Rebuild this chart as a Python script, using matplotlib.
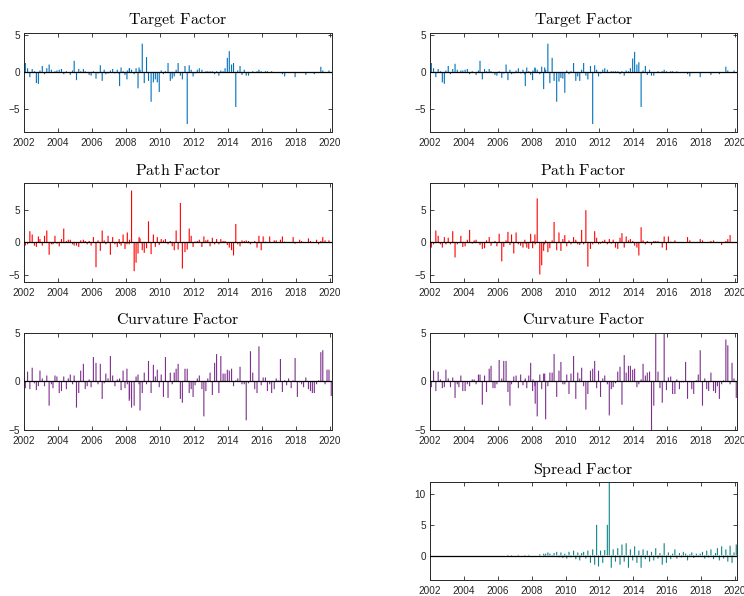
import matplotlib
matplotlib.use('Agg')
import matplotlib.pyplot as plt
import matplotlib.dates as mdates
import pandas as pd

plt.rcParams['mathtext.fontset'] = 'cm'
plt.rcParams['font.family'] = ['Liberation Sans', 'DejaVu Sans']

# --- event dates (FOMC announcements) ---
dates = [
    '2002-01-30', '2002-03-19', '2002-05-07', '2002-06-26', '2002-08-13', '2002-09-24', '2002-11-06', '2002-12-10',
    '2003-01-29', '2003-03-18', '2003-05-06', '2003-06-25', '2003-08-12', '2003-09-16', '2003-10-28', '2003-12-09',
    '2004-01-28', '2004-03-16', '2004-05-04', '2004-06-30', '2004-08-10', '2004-09-21', '2004-11-10', '2004-12-14',
    '2005-02-02', '2005-03-22', '2005-05-03', '2005-06-30', '2005-08-09', '2005-09-20', '2005-11-01', '2005-12-13',
    '2006-01-31', '2006-03-28', '2006-05-10', '2006-06-29', '2006-08-08', '2006-09-20', '2006-10-25', '2006-12-12',
    '2007-01-31', '2007-03-21', '2007-05-09', '2007-06-28', '2007-08-07', '2007-08-17', '2007-09-18', '2007-10-31',
    '2007-12-11',
    '2008-01-22', '2008-01-30', '2008-03-11', '2008-03-18', '2008-04-30', '2008-06-25', '2008-08-05', '2008-09-16',
    '2008-10-08', '2008-10-29', '2008-12-16',
    '2009-01-28', '2009-03-18', '2009-04-29', '2009-06-24', '2009-08-12', '2009-09-23', '2009-11-04', '2009-12-16',
    '2010-01-27', '2010-03-16', '2010-04-28', '2010-06-23', '2010-08-10', '2010-09-21', '2010-11-03', '2010-12-14',
    '2011-01-26', '2011-03-15', '2011-04-27', '2011-06-22', '2011-08-09', '2011-09-21', '2011-11-02', '2011-12-13',
    '2012-01-25', '2012-03-13', '2012-04-25', '2012-06-20', '2012-08-01', '2012-09-13', '2012-10-24', '2012-12-12',
    '2013-01-30', '2013-03-20', '2013-05-01', '2013-06-19', '2013-07-31', '2013-09-18', '2013-10-30', '2013-12-18',
    '2014-01-29', '2014-03-19', '2014-04-30', '2014-06-18', '2014-07-30', '2014-09-17', '2014-10-29', '2014-12-17',
    '2015-01-28', '2015-03-18', '2015-04-29', '2015-06-17', '2015-07-29', '2015-09-17', '2015-10-28', '2015-12-16',
    '2016-01-27', '2016-03-16', '2016-04-27', '2016-06-15', '2016-07-27', '2016-09-21', '2016-11-02', '2016-12-14',
    '2017-02-01', '2017-03-15', '2017-05-03', '2017-06-14', '2017-07-26', '2017-09-20', '2017-11-01', '2017-12-13',
    '2018-01-31', '2018-03-21', '2018-05-02', '2018-06-13', '2018-08-01', '2018-09-26', '2018-11-08', '2018-12-19',
    '2019-01-30', '2019-03-20', '2019-05-01', '2019-06-19', '2019-07-31', '2019-09-18', '2019-10-30', '2019-12-11',
    '2020-01-29',
]

# --- factor series, left column ---
target_left = [
    1.2, 0.5, -0.7, 0.4, 0.1, -1.5, -1.6, 0.2,
    0.8, -0.3, 0.5, 1.0, 0.3, -0.1, 0.1, 0.2,
    0.3, 0.4, -0.3, 0.1, 0.0, -0.4, 0.2, 1.5,
    -1.1, 0.4, 0.1, 0.4, 0.1, 0.0, -0.4, -0.5,
    0.1, -0.9, -0.2, 0.9, -1.2, 0.3, -0.3, -0.2,
    0.2, 0.4, -0.2, 0.3, -0.3, -1.9, 0.6, 0.1, -0.4,
    -1.0, 0.2, 0.5, 0.5, 0.3, -0.3, 0.5, -2.2, 0.6, 0.3, 3.8,
    -1.5, 2.0, -1.2, -4.0, -1.4, -1.0, -1.4, -2.7,
    0.2, -0.3, 0.1, 1.2, -1.2, -0.9, -0.6, 0.3,
    1.2, -0.5, -1.0, 0.8, -7.0, 0.9, 0.3, -0.6,
    -0.2, 0.3, 0.5, 0.3, -0.1, 0.1, 0.1, 0.1,
    0.1, -0.3, 0.1, -0.5, 0.2, 0.1, 0.5, 1.9,
    2.8, 1.0, 1.2, -4.7, 0.2, 0.8, -0.4, 0.3,
    -0.5, -0.5, 0.0, 0.1, 0.0, 0.1, 0.3, 0.1,
    0.0, 0.1, 0.1, 0.0, 0.1, 0.0, 0.0, 0.0,
    0.0, -0.3, -0.6, 0.0, 0.0, 0.0, 0.0, -0.7,
    0.0, 0.0, 0.0, 0.0, -0.4, 0.0, 0.0, 0.0,
    -0.3, 0.0, 0.0, 0.7, 0.2, 0.0, 0.0, 0.2,
    0.0,
]
path_left = [
    -0.5, -0.3, 1.7, 1.2, -0.5, -0.7, 0.9, 0.5,
    -0.5, 1.0, 1.8, -1.9, -0.3, -0.3, 1.0, -0.2,
    -0.6, 0.5, 2.1, 0.2, 0.4, 0.4, -0.3, -0.5,
    -0.5, -0.7, 0.3, 0.4, 0.2, -0.3, 0.2, -0.5,
    0.8, -3.8, 0.3, -1.3, 1.8, 0.3, -0.3, 1.0,
    -1.9, 0.8, -0.3, -0.7, 0.5, -0.2, -0.5, 1.2, -1.0,
    -0.3, 1.5, -0.3, 0.4, 7.9, -4.4, -3.1, -1.7, 0.8, 0.6, -1.2,
    -1.6, -0.9, 3.2, -1.8, 1.2, -0.7, 0.8, -0.4,
    0.5, 0.3, 0.5, -0.3, 0.2, -0.6, -1.2, 1.8,
    -1.1, 6.0, -4.0, -1.5, -1.1, 2.1, 1.0, -0.7,
    0.1, 0.2, 0.4, -0.7, 0.9, 0.3, 0.4, -0.6,
    0.7, -0.3, 0.5, -0.3, 0.5, 0.2, 0.2, -0.4,
    -0.8, -1.2, -2.0, 2.8, -0.3, -0.6, 0.3, 0.2,
    0.3, 0.2, -0.3, 0.0, 0.2, -0.8, 1.0, -1.2,
    0.9, 0.1, 0.0, 0.9, 0.0, 0.3, 0.3, 0.0,
    0.4, 0.9, 0.1, 0.0, 0.0, 0.0, 0.8, -0.2,
    0.0, 0.4, 0.2, 0.0, 0.0, 0.6, 0.2, 0.0,
    0.0, 0.4, -0.3, 0.2, 0.8, 0.3, 0.0, 0.3,
    0.0,
]
curv_left = [
    -0.7, 1.0, -0.8, 1.4, -0.2, -0.9, -0.5, 1.1,
    0.3, -0.5, 0.6, -2.5, -0.3, -0.7, 0.6, 0.5,
    -1.2, -1.0, 0.5, -0.8, 0.3, 0.7, -0.3, 0.6,
    -2.7, -1.2, 1.1, 1.8, -0.8, -0.5, 0.2, -0.6,
    2.5, 1.9, -0.3, 1.8, -1.8, -0.2, 0.8, 0.3,
    2.6, 0.6, -0.5, 0.2, 0.1, 0.3, -0.9, 1.1, -0.7,
    1.3, -0.3, -2.0, -1.8, -2.7, -2.5, 0.5, 0.7, -0.3, -3.0, -1.2,
    0.9, -0.3, 2.1, -1.2, 1.7, 0.5, 1.2, -0.6,
    0.7, -1.6, 2.5, -1.7, 0.9, -0.3, 0.9, 1.3,
    1.8, -1.8, -2.2, 1.3, 1.3, -1.2, -0.8, -1.6,
    -0.4, 0.3, 0.6, -0.8, -3.6, -1.0, 0.3, 0.9,
    -1.4, 1.9, 2.8, -1.2, 2.6, 0.8, 0.8, 1.2,
    1.1, 1.3, -0.5, 0.1, 0.3, 1.5, -0.3, -0.3,
    -4.0, -0.2, 3.1, 0.9, -0.8, -1.2, 3.6, -0.4,
    0.4, 0.4, -1.0, -0.3, -1.2, -0.8, 0.3, 0.1,
    2.3, -1.1, 0.1, -0.4, 0.3, -0.7, 0.1, 2.4,
    -1.6, -0.1, -0.3, -0.6, 0.4, -0.8, -1.0, -1.2,
    -1.2, -0.3, 0.1, 3.0, 3.2, -0.3, 1.2, 1.2,
    -1.5,
]

# --- factor series, right column ---
target_right = [
    1.2, 0.5, -0.7, 0.4, 0.1, -1.4, -1.6, 0.2,
    0.8, -0.3, 0.4, 1.1, 0.3, -0.1, 0.2, 0.2,
    0.3, 0.4, -0.3, 0.1, 0.0, -0.4, 0.2, 1.5,
    -1.0, 0.4, 0.1, 0.4, 0.1, 0.0, -0.4, -0.5,
    0.1, -0.8, -0.2, 1.0, -1.1, 0.3, -0.3, -0.2,
    0.2, 0.5, -0.2, 0.3, -0.3, -1.9, 0.6, 0.1, -0.4,
    -1.1, 0.2, 0.6, 0.5, 0.3, -0.3, 0.7, -2.3, 0.6, 0.3, 3.8,
    -1.5, 1.9, -1.2, -4.0, -1.3, -0.8, -0.9, -2.8,
    0.2, -0.3, 0.1, 1.2, -1.2, -0.6, -1.2, 0.3,
    1.2, -0.5, -1.0, 0.8, -7.0, 0.9, 0.3, -0.6,
    -0.2, 0.3, 0.5, 0.3, -0.1, 0.1, 0.1, 0.1,
    0.1, -0.3, 0.1, -0.5, 0.2, 0.1, 0.5, 1.8,
    2.7, 1.0, 1.3, -4.7, 0.2, 0.8, -0.4, 0.3,
    -0.5, -0.5, 0.0, 0.1, 0.0, 0.1, 0.3, 0.1,
    0.0, 0.1, 0.1, 0.0, 0.1, 0.0, 0.0, 0.0,
    0.0, -0.3, -0.6, 0.0, 0.0, 0.0, 0.0, -0.7,
    0.0, 0.0, 0.0, 0.0, -0.4, 0.0, 0.0, 0.0,
    -0.3, 0.0, 0.0, 0.7, 0.2, 0.0, 0.0, 0.2,
    0.0,
]
path_right = [
    -0.8, -0.3, 1.8, 1.0, -0.3, -0.8, 0.8, -0.3,
    0.7, -0.3, 1.7, -2.3, -0.3, 0.0, 1.0, -0.7,
    -0.6, 0.4, 1.9, -0.2, 0.3, 0.4, 0.0, -0.4,
    -1.0, -0.9, 0.3, 0.8, -0.5, 0.0, 0.2, -0.6,
    1.3, -2.9, -0.7, 0.3, 1.6, -0.4, 1.2, -1.7,
    1.5, -0.3, -0.5, -0.8, 0.4, -0.2, -0.8, -1.0, 1.3,
    -0.9, 0.2, 1.2, -0.3, 6.7, -4.9, -3.5, -1.3, -0.3, 0.3, -1.5,
    -0.9, 0.3, 3.1, -1.2, 1.5, -1.3, 0.5, 1.1,
    -0.6, 0.3, -0.3, 0.8, 0.4, -0.3, -0.4, 1.9,
    -0.3, 4.9, -3.7, -1.0, -0.3, 1.7, 0.7, -0.3,
    -0.2, 0.2, 0.4, -0.3, 0.5, -0.2, 0.4, -0.8,
    -1.0, 0.7, 1.4, -0.8, 0.9, 0.3, 0.5, 0.2,
    -0.5, -0.8, -2.0, 2.3, 0.3, -0.3, 0.2, 0.0,
    -0.4, 0.2, 0.2, 0.2, 0.0, -0.8, 0.9, -1.2,
    0.9, 0.1, 0.0, 0.3, 0.0, 0.0, 0.0, 0.0,
    0.0, 0.8, 0.3, 0.0, 0.0, 0.0, 0.0, 0.5,
    0.3, 0.0, 0.0, 0.0, 0.2, 0.3, 0.0, 0.0,
    0.0, -0.4, 0.0, 0.2, 0.5, 1.1, 0.0, 0.0,
    0.0,
]
curv_right = [
    -0.6, 1.1, -1.0, 1.0, 0.2, -0.7, -0.6, 1.2,
    0.3, -0.6, 0.4, -1.7, -0.3, -0.6, 0.6, -1.0,
    -1.0, -0.3, -0.5, 0.2, 0.2, -0.3, 0.7, 0.7,
    -2.4, 0.6, -1.1, 1.3, 1.6, -0.7, -0.7, -0.3,
    2.2, 0.3, 2.1, 2.1, -1.1, -2.5, -0.3, 0.5,
    0.6, -0.7, 0.7, -0.4, 0.1, 0.3, -0.7, 0.6, 1.9,
    -1.0, 0.2, -0.5, -2.3, -3.6, 0.7, -0.8, 0.8, 0.8, -3.9, -0.5,
    0.9, 0.9, 2.8, -1.6, 1.1, 2.0, -0.3, -0.3,
    0.7, -1.3, 0.8, 2.6, -1.8, 0.9, 0.3, 1.4,
    -0.5, -2.9, -1.3, 1.1, 1.3, 2.1, -0.7, 1.1,
    -1.6, 0.3, 0.6, -0.3, -3.5, -0.8, -0.6, -0.2,
    1.0, 1.5, -2.4, 2.7, 0.9, 1.6, 1.6, 1.2,
    1.3, -0.6, -0.3, 0.2, 1.8, 0.6, 0.9, 1.0,
    -5.3, -2.5, 5.1, 1.0, -0.7, -2.2, 5.6, -0.9,
    0.4, 0.5, -1.3, -1.3, 0.2, -0.8, -0.1, -0.1,
    2.0, -1.8, -0.1, -0.8, -1.3, 0.1, 0.7, 3.2,
    -2.5, 0.3, -0.8, -1.0, 0.9, -1.0, -1.2, -0.5,
    -1.8, -0.3, 0.1, 4.3, 3.7, -0.3, 1.9, 0.3,
    -1.7,
]
spread_right = [
    0.0, 0.0, 0.0, 0.0, 0.0, 0.0, 0.0, 0.0,
    0.0, 0.0, 0.0, 0.0, 0.0, 0.0, 0.0, 0.0,
    0.0, 0.0, 0.0, 0.0, 0.0, 0.0, 0.0, 0.0,
    0.0, 0.0, 0.0, 0.0, 0.0, 0.0, 0.0, 0.0,
    0.0, 0.0, 0.0, 0.0, 0.1, 0.0, -0.1, 0.0,
    0.0, 0.1, 0.0, 0.0, -0.1, 0.0, 0.0, 0.1, 0.0,
    0.0, 0.0, 0.0, 0.0, 0.0, 0.2, 0.0, 0.3, -0.2, 0.3, 0.5,
    0.3, -0.2, 0.4, 0.6, -0.3, 0.5, -0.4, 0.3,
    -0.5, 0.6, -0.3, 0.8, -0.6, 0.5, -0.8, 0.4,
    0.6, -0.5, 0.8, -1.2, 1.0, -1.5, 5.0, -1.8,
    0.8, -1.2, 0.9, 5.0, 12.0, -2.0, 1.0, -1.0,
    1.2, -1.5, 1.8, -1.0, 2.0, -2.0, 1.0, -0.8,
    1.5, -1.2, 0.8, -2.0, 1.0, -0.6, 0.8, -1.0,
    0.6, -0.8, 1.2, -0.5, 0.4, -1.5, 2.0, -1.2,
    0.5, -0.6, 0.3, 1.0, -0.5, 0.4, -0.3, 0.6,
    0.3, -0.8, 0.2, 0.5, -0.4, 0.3, -0.2, 0.3,
    0.6, -0.5, 0.8, -0.3, 1.0, -0.6, 0.4, 1.2,
    -0.8, 1.5, -0.5, 1.0, -1.0, 1.6, -1.2, 0.5,
    1.8,
]

COL = {'target': '#0072BD', 'path': '#FF0000', 'curv': '#7E2F8E', 'spread': '#0E8585'}
AX_COLOR = '#262626'

x = pd.to_datetime(dates)

fig = plt.figure(figsize=(7.44, 5.96), dpi=100)
W, H = 744.0, 596.0

def make_ax(left, right, top, bottom):
    return fig.add_axes([left / W, 1 - bottom / H, (right - left) / W, (bottom - top) / H])

def panel(ax, vals, color, ylim, yticks, title):
    # thin bars, not snapped to pixels so every one of them shows
    ax.bar(x, vals, width=24, color=color, linewidth=0, zorder=2, snap=False)
    ax.axhline(0, color='black', lw=0.9, zorder=3)
    ax.set_ylim(*ylim)
    ax.set_yticks(yticks)
    ax.set_xlim(pd.Timestamp('2002-01-01'), pd.Timestamp('2020-02-14'))
    ax.xaxis.set_major_locator(mdates.YearLocator(2))
    ax.xaxis.set_major_formatter(mdates.DateFormatter('%Y'))
    ax.tick_params(direction='in', length=3, width=0.6, top=True, right=True,
                   labelsize=7.2, colors=AX_COLOR)
    ax.tick_params(axis='x', pad=4.5)
    ax.tick_params(axis='y', pad=3)
    for s in ax.spines.values():
        s.set_color(AX_COLOR)
        s.set_linewidth(0.7)
    ax.set_title(r'$\mathrm{' + title.replace(' ', r'\ ') + '}$', fontsize=11.5, pad=6)

rows = [(32.5, 131.5), (183.3, 281.7), (332.7, 430.0), (482.0, 580.0)]
left_x = (24, 332)
right_x = (430, 737)

panels_left = [
    (target_left, COL['target'], (-8, 5.3), [-5, 0, 5], 'Target Factor'),
    (path_left, COL['path'], (-6, 9), [-5, 0, 5], 'Path Factor'),
    (curv_left, COL['curv'], (-5, 5), [-5, 0, 5], 'Curvature Factor'),
]
panels_right = [
    (target_right, COL['target'], (-8, 5.3), [-5, 0, 5], 'Target Factor'),
    (path_right, COL['path'], (-6, 9), [-5, 0, 5], 'Path Factor'),
    (curv_right, COL['curv'], (-5, 5), [-5, 0, 5], 'Curvature Factor'),
    (spread_right, COL['spread'], (-4, 12), [0, 5, 10], 'Spread Factor'),
]

for (top, bottom), p in zip(rows, panels_left):
    panel(make_ax(left_x[0], left_x[1], top, bottom), *p)
for (top, bottom), p in zip(rows, panels_right):
    panel(make_ax(right_x[0], right_x[1], top, bottom), *p)

fig.savefig('out.png', dpi=100)
